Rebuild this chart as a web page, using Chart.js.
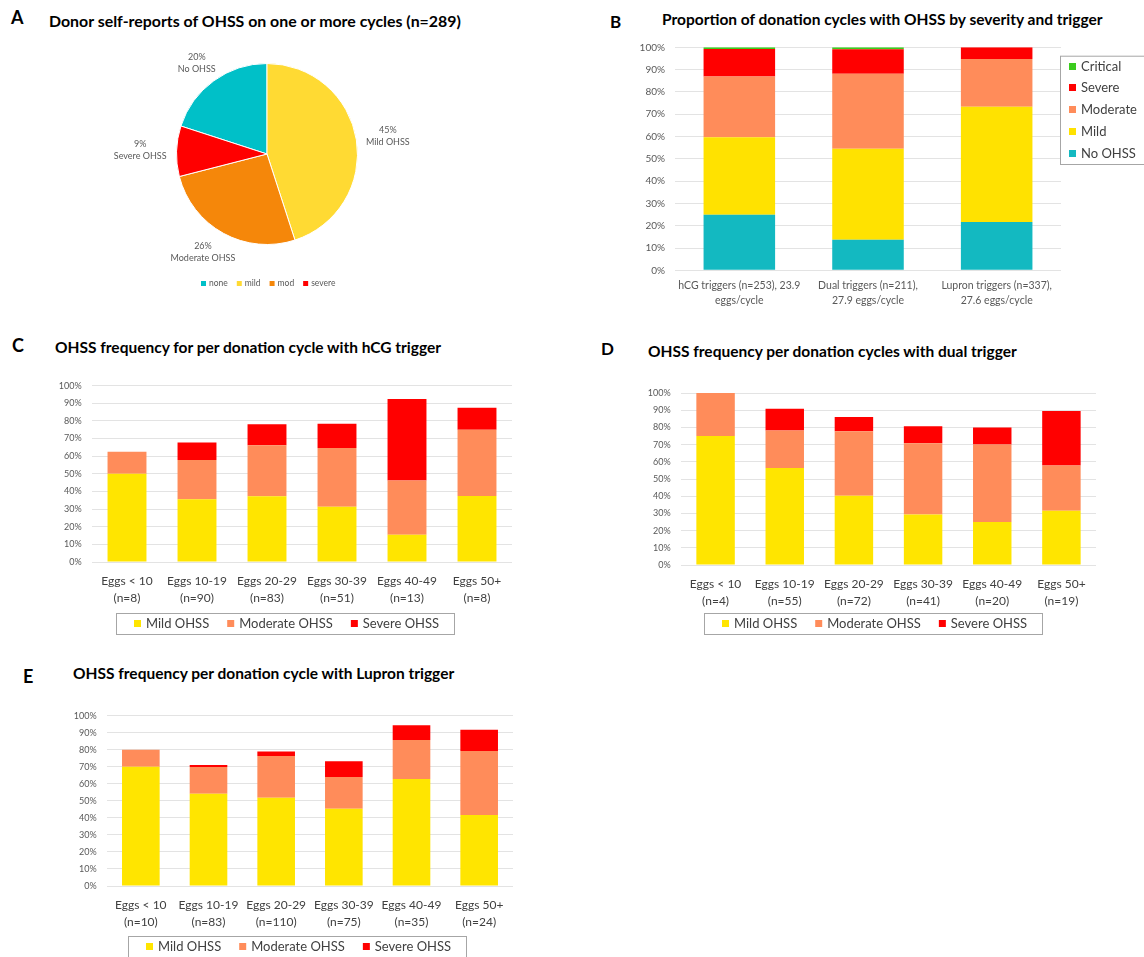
<!DOCTYPE html>
<html><head><meta charset="utf-8">
<script src="https://cdn.jsdelivr.net/npm/chart.js@4.4.0/dist/chart.umd.min.js"></script>
<style>
html,body{margin:0;padding:0;background:#fff;width:1144px;height:957px;overflow:hidden;position:relative;font-family:Lato,"Open Sans",sans-serif;}
.t{position:absolute;font-weight:bold;color:#000;white-space:nowrap;line-height:1.2;}
.ttl{font-size:15.5px;}
.let{font-size:18px;}
canvas{position:absolute;}
</style></head><body>
<div class="t let" style="left:11px;top:7px">A</div>
<div class="t ttl" style="left:49px;top:10.5px;font-size:15.9px">Donor self-reports of OHSS on one or more cycles (n=289)</div>
<div class="t let" style="left:610px;top:12px;font-size:17px">B</div>
<div class="t ttl" style="left:662px;top:9.8px">Proportion of donation cycles with OHSS by severity and trigger</div>
<div class="t let" style="left:12px;top:335px">C</div>
<div class="t ttl" style="left:55px;top:338.3px">OHSS frequency for per donation cycle with hCG trigger</div>
<div class="t let" style="left:601px;top:339px;font-size:17px">D</div>
<div class="t ttl" style="left:648px;top:342.3px">OHSS frequency per donation cycles with dual trigger</div>
<div class="t let" style="left:23px;top:666px">E</div>
<div class="t ttl" style="left:73px;top:664.3px">OHSS frequency per donation cycle with Lupron trigger</div>

<canvas id="cA" width="340" height="260" style="left:100px;top:40px"></canvas>
<canvas id="cB" width="544" height="285" style="left:600px;top:30px"></canvas>
<canvas id="cC" width="490" height="270" style="left:40px;top:370px"></canvas>
<canvas id="cD" width="544" height="270" style="left:600px;top:370px"></canvas>
<canvas id="cE" width="490" height="257" style="left:40px;top:700px"></canvas>

<script>
// ---------------- DATA ----------------
// Panel A: donor self-reports (pie)
const pieCategories = ['none', 'mild', 'mod', 'severe'];
const pieSliceLabels = ['No OHSS', 'Mild OHSS', 'Moderate OHSS', 'Severe OHSS'];
const pieValues = [20, 45, 26, 9];

// Panel B: proportion by severity and trigger
const triggerLabels = [
  ['hCG triggers (n=253), 23.9', 'eggs/cycle'],
  ['Dual triggers (n=211),', '27.9 eggs/cycle'],
  ['Lupron triggers (n=337),', '27.6 eggs/cycle']
];
const severityNames = ['No OHSS', 'Mild', 'Moderate', 'Severe', 'Critical'];
const triggerNoOHSS   = [24.9, 13.7, 21.7];
const triggerMild     = [34.8, 40.8, 51.6];
const triggerModerate = [27.2, 33.6, 21.4];
const triggerSevere   = [12.3, 11.0, 5.3];
const triggerCritical = [0.8, 0.9, 0];

// Panels C-E
const ohssNames = ['Mild OHSS', 'Moderate OHSS', 'Severe OHSS'];
const hcgEggLabels = [['Eggs < 10','(n=8)'],['Eggs 10-19','(n=90)'],['Eggs 20-29','(n=83)'],['Eggs 30-39','(n=51)'],['Eggs 40-49','(n=13)'],['Eggs 50+','(n=8)']];
const hcgMild     = [50.0, 35.6, 37.3, 31.4, 15.4, 37.5];
const hcgModerate = [12.5, 22.2, 28.9, 33.3, 30.8, 37.5];
const hcgSevere   = [0, 10.0, 12.0, 13.7, 46.2, 12.5];

const dualEggLabels = [['Eggs < 10','(n=4)'],['Eggs 10-19','(n=55)'],['Eggs 20-29','(n=72)'],['Eggs 30-39','(n=41)'],['Eggs 40-49','(n=20)'],['Eggs 50+','(n=19)']];
const dualMild     = [75.0, 56.4, 40.3, 29.3, 25.0, 31.6];
const dualModerate = [25.0, 21.8, 37.5, 41.5, 45.0, 26.3];
const dualSevere   = [0, 12.7, 8.3, 9.8, 10.0, 31.6];

const lupronEggLabels = [['Eggs < 10','(n=10)'],['Eggs 10-19','(n=83)'],['Eggs 20-29','(n=110)'],['Eggs 30-39','(n=75)'],['Eggs 40-49','(n=35)'],['Eggs 50+','(n=24)']];
const lupronMild     = [70.0, 54.2, 51.8, 45.3, 62.9, 41.7];
const lupronModerate = [10.0, 15.7, 24.5, 18.7, 22.9, 37.5];
const lupronSevere   = [0, 1.2, 2.7, 9.3, 8.6, 12.5];

// ---------------- STYLE ----------------
const FONT = 'Lato, "Open Sans", sans-serif';
Chart.defaults.font.family = FONT;
Chart.defaults.color = '#595959';
Chart.defaults.animation = false;
Chart.defaults.plugins.tooltip.enabled = false;
Chart.defaults.plugins.legend.display = false;

const pieColors = ['#00C0C8', '#FFDA33', '#F5870A', '#FF0000'];
const sevColors = ['#13B9C1', '#FFE200', '#FF8C5A', '#FF0000', '#3CCC1E'];
const ohssColors = ['#FFE500', '#FF8C5A', '#FF0000'];

// legend drawn with the chart's own dataset labels/colours
const boxLegend = {
  id: 'boxLegend',
  afterDraw(chart, args, o) {
    if (!o || !o.mode) return;
    const ctx = chart.ctx;
    let items;
    if (chart.config.type === 'pie') {
      const ds = chart.data.datasets[0];
      items = chart.data.labels.map((l, i) => ({text: l, color: ds.backgroundColor[i]}));
    } else {
      items = chart.data.datasets.map(d => ({text: d.label, color: d.backgroundColor}));
    }
    if (o.reverse) items.reverse();
    ctx.save();
    ctx.font = o.size + 'px ' + FONT;
    ctx.textBaseline = 'middle';
    ctx.textAlign = 'left';
    const ms = o.marker, mg = o.markerGap;
    if (o.mode === 'row') {
      const ws = items.map(i => ctx.measureText(i.text).width);
      const total = o.padL + ws.reduce((a, w) => a + ms + mg + w, 0) + o.gap * (items.length - 1) + o.padR;
      const left = Math.round(o.cx - total / 2);
      const cy = o.top + o.h / 2;
      if (o.border) {
        ctx.strokeStyle = o.border; ctx.lineWidth = 1;
        ctx.strokeRect(left + 0.5, o.top + 0.5, Math.round(total), o.h);
      }
      let x = left + o.padL;
      items.forEach((it, i) => {
        ctx.fillStyle = it.color;
        ctx.fillRect(x, Math.round(cy - ms / 2), ms, ms);
        ctx.fillStyle = o.color;
        ctx.fillText(it.text, x + ms + mg, cy + 0.5);
        x += ms + mg + ws[i] + o.gap;
      });
    } else {
      if (o.border) {
        ctx.strokeStyle = o.border; ctx.lineWidth = 1;
        ctx.strokeRect(o.left + 0.5, o.top + 0.5, o.w, o.h);
      }
      items.forEach((it, i) => {
        const cy = o.top + o.first + i * o.row;
        ctx.fillStyle = it.color;
        ctx.fillRect(o.left + o.padL, Math.round(cy - ms / 2), ms, ms);
        ctx.fillStyle = o.color;
        ctx.fillText(it.text, o.left + o.padL + ms + mg, cy + 0.5);
      });
    }
    ctx.restore();
  }
};

// outside labels for pie slices, positioned from the arc geometry
const pieOuterLabels = {
  id: 'pieOuterLabels',
  afterDatasetsDraw(chart, args, o) {
    if (!o || !o.labels) return;
    const ctx = chart.ctx;
    const meta = chart.getDatasetMeta(0);
    const vals = chart.data.datasets[0].data;
    const total = vals.reduce((a, b) => a + b, 0);
    ctx.save();
    ctx.font = o.size + 'px ' + FONT;
    ctx.fillStyle = o.color;
    ctx.textAlign = 'center';
    ctx.textBaseline = 'middle';
    meta.data.forEach((arc, i) => {
      const p = arc.getProps(['x', 'y', 'startAngle', 'endAngle', 'outerRadius'], true);
      const a = (p.startAngle + p.endAngle) / 2;
      const l1 = Math.round(vals[i] / total * 100) + '%';
      const l2 = o.labels[i];
      const w = Math.max(ctx.measureText(l1).width, ctx.measureText(l2).width);
      const h = o.lineH * 2;
      const r = p.outerRadius + o.dist;
      const cx = p.x + Math.cos(a) * r + Math.cos(a) * w / 2;
      const cy = p.y + Math.sin(a) * r + Math.sin(a) * h / 2;
      ctx.fillText(l1, cx, cy - o.lineH / 2);
      ctx.fillText(l2, cx, cy + o.lineH / 2);
    });
    ctx.restore();
  }
};

Chart.register(boxLegend, pieOuterLabels);

// ---------------- PANEL A ----------------
new Chart(document.getElementById('cA'), {
  type: 'pie',
  data: {
    labels: pieCategories,
    datasets: [{ data: pieValues, backgroundColor: pieColors, borderColor: '#ffffff', borderWidth: 1 }]
  },
  options: {
    responsive: false,
    devicePixelRatio: 1,
    rotation: -72,
    layout: { padding: { left: 76, right: 82, top: 23, bottom: 55 } },
    plugins: {
      pieOuterLabels: { labels: pieSliceLabels, size: 9, lineH: 12, dist: 10, color: '#595959' },
      boxLegend: { mode: 'row', cx: 168.5, top: 238, h: 10, padL: 0, padR: 0, gap: 9, marker: 5, markerGap: 3, size: 8.5, color: '#595959' }
    }
  }
});

// ---------------- STACKED BAR BUILDER ----------------
function stackedBar(id, labels, names, seriesList, colors, cfg) {
  return new Chart(document.getElementById(id), {
    type: 'bar',
    data: {
      labels: labels,
      datasets: seriesList.map((s, i) => ({
        label: names[i], data: s, backgroundColor: colors[i], borderWidth: 0,
        categoryPercentage: 0.556, barPercentage: 1
      }))
    },
    options: {
      responsive: false,
      devicePixelRatio: 1,
      layout: { padding: cfg.padding },
      scales: {
        x: {
          stacked: true,
          grid: { display: false, drawTicks: false },
          border: { display: false },
          ticks: { padding: cfg.xPad, color: cfg.xColor, font: { size: cfg.xSize, lineHeight: cfg.xLine }, maxRotation: 0, autoSkip: false },
          afterFit: s => { s.height = cfg.xHeight; }
        },
        y: {
          stacked: true, min: 0, max: 100,
          grid: { color: '#e3e3e3', lineWidth: 1, drawTicks: false },
          border: { display: false },
          ticks: { stepSize: 10, padding: cfg.yPad, font: { size: cfg.ySize }, color: '#595959', callback: v => v + '%' },
          afterFit: s => { s.width = cfg.yWidth; }
        }
      },
      plugins: { boxLegend: cfg.legend }
    }
  });
}

// ---------------- PANEL B ----------------
stackedBar('cB', triggerLabels, severityNames,
  [triggerNoOHSS, triggerMild, triggerModerate, triggerSevere, triggerCritical], sevColors,
  { padding: { left: 0, right: 83, top: 17.3, bottom: 0 }, yWidth: 75, xHeight: 44.7,
    yPad: 10, ySize: 10, xPad: 8.2, xSize: 10.5, xLine: 15 / 10.5, xColor: '#595959',
    legend: { mode: 'col', reverse: true, left: 460, top: 25.7, w: 200, h: 108.3, first: 10.3, row: 21.75,
              padL: 9, marker: 7, markerGap: 5, size: 13, color: '#404040', border: '#a6a6a6' } });

const rowLegend = (cx, top) => ({ mode: 'row', cx: cx, top: top, h: 21, padL: 18, padR: 15, gap: 18,
  marker: 7, markerGap: 5, size: 13, color: '#404040', border: '#a6a6a6' });

// ---------------- PANEL C ----------------
stackedBar('cC', hcgEggLabels, ohssNames, [hcgMild, hcgModerate, hcgSevere], ohssColors,
  { padding: { left: 0, right: 18, top: 14, bottom: 0 }, yWidth: 52, xHeight: 78,
    yPad: 10.3, ySize: 9, xPad: 10.2, xSize: 12, xLine: 17 / 12, xColor: '#404040',
    legend: rowLegend(245.5, 243) });

// ---------------- PANEL D ----------------
stackedBar('cD', dualEggLabels, ohssNames, [dualMild, dualModerate, dualSevere], ohssColors,
  { padding: { left: 0, right: 48, top: 23, bottom: 0 }, yWidth: 81, xHeight: 75,
    yPad: 10.3, ySize: 9, xPad: 10.5, xSize: 12, xLine: 17 / 12, xColor: '#404040',
    legend: rowLegend(273.5, 243) });

// ---------------- PANEL E ----------------
stackedBar('cE', lupronEggLabels, ohssNames, [lupronMild, lupronModerate, lupronSevere], ohssColors,
  { padding: { left: 0, right: 17, top: 14, bottom: 0 }, yWidth: 67, xHeight: 71,
    yPad: 10.3, ySize: 9, xPad: 10.5, xSize: 12, xLine: 17 / 12, xColor: '#404040',
    legend: rowLegend(257, 236) });
</script>
</body></html>
